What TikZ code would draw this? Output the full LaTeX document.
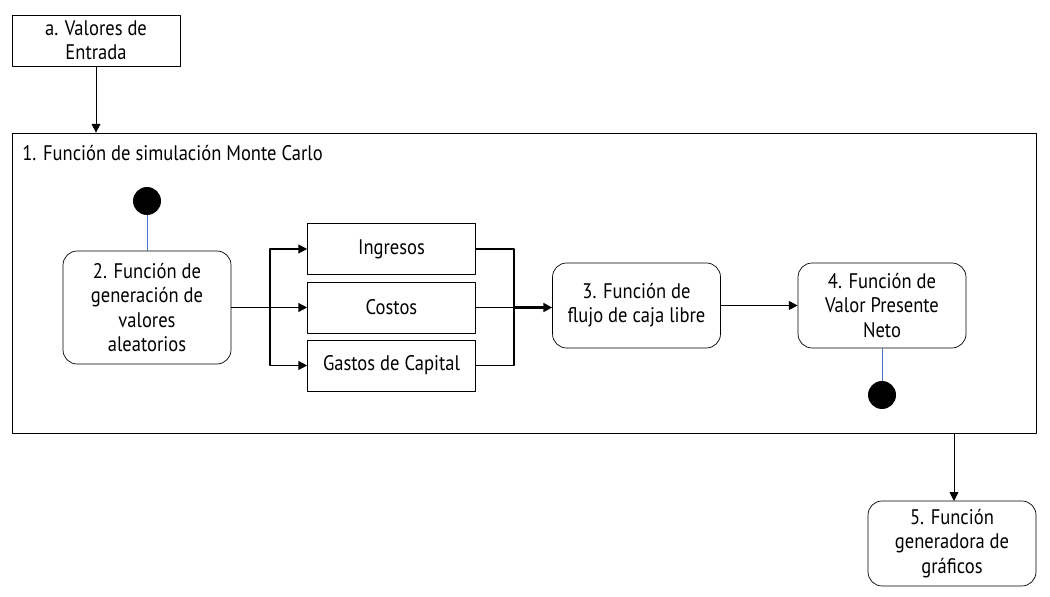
\documentclass[tikz,border=0pt]{standalone}
\usepackage{fontspec}
\setmainfont{PT Sans}[FakeStretch=0.88]
\usetikzlibrary{arrows.meta}
\definecolor{linea}{RGB}{68,114,196}
\begin{document}
\begin{tikzpicture}[x=0.02cm,y=-0.02cm,line join=round,font=\fontsize{12}{13.8}\selectfont,
		box/.style={draw,minimum width=3.36cm,align=center,inner sep=2pt},
		fn/.style={box,rounded corners=8pt},
		dot/.style={circle,fill,inner sep=0pt,minimum size=0.56cm},
		>={Triangle[length=5pt,width=5pt]}]
	\useasboundingbox (0,0) rectangle (1050,597);
	% entrada y caja principal
	\node[box,minimum height=1.02cm] (entrada) at (96,40.5) {a. Valores de\\Entrada};
	\node[draw,minimum width=20.48cm,minimum height=6cm] (mc) at (524,283) {};
	\node[anchor=west,inner sep=0pt] (titulo) at (22,153) {1. Función de simulación Monte Carlo};
	% funciones
	\node[dot] (ini) at (147,201) {};
	\node[fn,minimum height=2.26cm] (gen) at (147,307.5) {2. Función de\\generación de\\valores\\aleatorios};
	\foreach \n/\t/\y in {ing/Ingresos/249,cos/Costos/307.5,gas/Gastos de Capital/365.5}
		\node[box,minimum height=1.02cm] (\n) at (391.5,\y) {\t};
	\node[fn,minimum height=1.7cm] (flujo) at (636.5,305.5) {3. Función de\\flujo de caja libre};
	\node[fn,minimum height=1.7cm] (vpn) at (882,305.5) {4. Función de\\Valor Presente\\Neto};
	\node[dot] (fin) at (882,395) {};
	\node[fn,minimum height=1.7cm] (graf) at (952,543.5) {5. Función\\generadora de\\gráficos};
	% conectores
	\coordinate (split) at (270,307.5);
	\coordinate (join) at (514,307.5);
	\draw[->] (entrada) -- (entrada |- mc.north);
	\draw[linea] (ini) -- (gen);
	\draw[thick] (gen.east) -- (split);
	\foreach \n in {ing,cos,gas}{\draw[thick,->] (split) |- (\n.west);\draw[thick] (\n.east) -| (join);}
	\draw[line width=2pt,->] (join) -- (join -| flujo.west);
	\draw[->] (flujo) -- (vpn);
	\draw[linea] (vpn) -- (fin);
	\draw[->] (954,433) -- (954,501);
\end{tikzpicture}
\end{document}
